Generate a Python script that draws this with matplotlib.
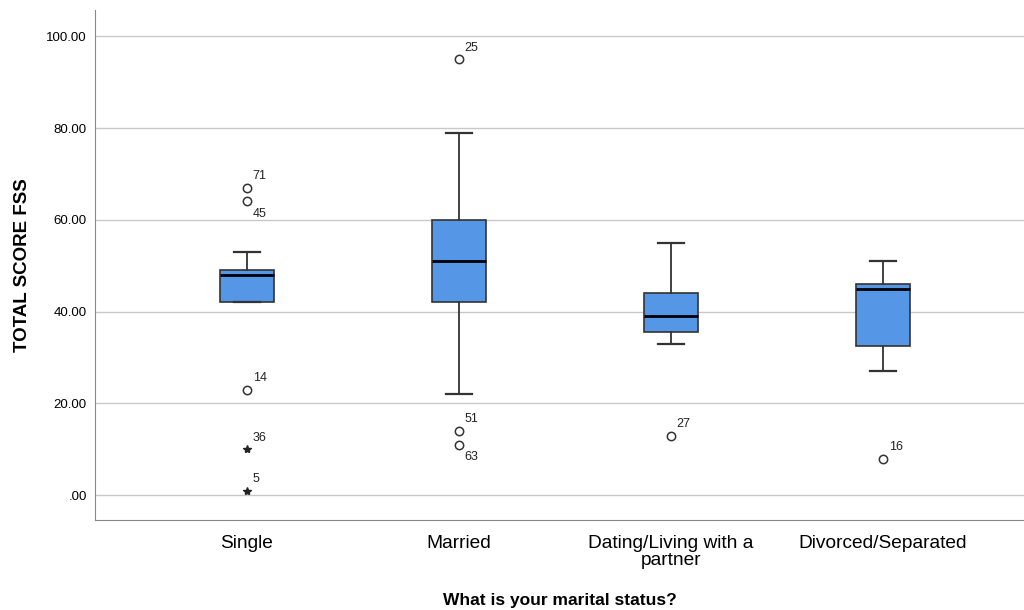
import matplotlib.pyplot as plt

plt.rcParams['font.family'] = ['Liberation Sans', 'DejaVu Sans']

# Data
categories = ["Single", "Married", "Dating/Living with a\npartner", "Divorced/Separated"]
q1 = [42, 42, 35.5, 32.5]
med = [48, 51, 39, 45]
q3 = [49, 60, 44, 46]
whislo = [42, 22, 33, 27]
whishi = [53, 79, 55, 51]

# outliers (circles) and extremes (stars): (group, value, case id)
outliers = [(0, 67, "71"), (0, 64, "45"), (0, 23, "14"),
            (1, 95, "25"), (1, 14, "51"), (1, 11, "63"),
            (2, 13, "27"), (3, 8, "16")]
extremes = [(0, 10, "36"), (0, 1, "5")]
label_below = {"45", "63"}

yticks = [0, 20, 40, 60, 80, 100]
ytick_labels = [".00", "20.00", "40.00", "60.00", "80.00", "100.00"]

fig = plt.figure(figsize=(10.24, 6.1), dpi=100)
ax = fig.add_axes([0.0928, 0.1475, 0.9072, 0.836])

stats = []
for i in range(len(categories)):
    stats.append(dict(q1=q1[i], med=med[i], q3=q3[i],
                      whislo=whislo[i], whishi=whishi[i], fliers=[]))

ax.bxp(stats, positions=range(len(categories)), widths=0.255,
       patch_artist=True, showfliers=False,
       boxprops=dict(facecolor='#5596E6', edgecolor='#333333', linewidth=1.2),
       medianprops=dict(color='black', linewidth=2),
       whiskerprops=dict(color='#333333', linewidth=1.3),
       capprops=dict(color='#333333', linewidth=1.6), capwidths=0.125)

for g, v, lab in outliers:
    ax.plot(g, v, marker='o', markersize=6, markerfacecolor='white',
            markeredgecolor='#333333', markeredgewidth=1.1, zorder=3)
    dy = -13 if lab in label_below else 4
    ax.annotate(lab, (g, v), xytext=(4, dy), textcoords='offset points',
                fontsize=9, color='#222222', va='bottom')

for g, v, lab in extremes:
    ax.plot(g, v, marker='*', markersize=6, color='#222222', zorder=3)
    ax.annotate(lab, (g, v), xytext=(4, 4), textcoords='offset points',
                fontsize=9, color='#222222', va='bottom')

ax.set_xlim(-0.717, 3.665)
ax.set_ylim(-5.4, 105.7)
ax.set_yticks(yticks)
ax.set_yticklabels(ytick_labels, fontsize=9.5)
ax.set_xticks(range(len(categories)))
ax.set_xticklabels(categories, fontsize=13.8, linespacing=1.0)
ax.tick_params(length=0, pad=6)
ax.tick_params(axis='x', pad=11)
ax.yaxis.grid(True, color='#c8c8c8', linewidth=1)
ax.set_axisbelow(True)
for s in ['top', 'right']:
    ax.spines[s].set_visible(False)
for s in ['left', 'bottom']:
    ax.spines[s].set_color('#888888')

ax.set_ylabel("TOTAL SCORE FSS", fontsize=13.5, fontweight='bold', labelpad=11)
ax.set_xlabel("What is your marital status?", fontsize=12.5, fontweight='bold', labelpad=17)

fig.savefig("out.png", dpi=100)
